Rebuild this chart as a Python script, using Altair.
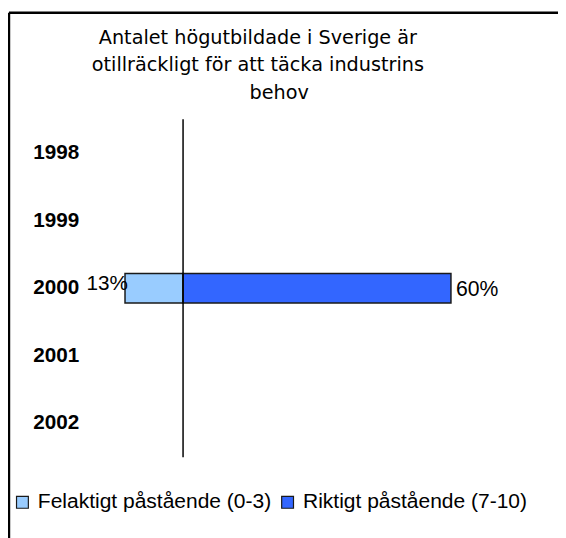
import altair as alt
import pandas as pd

years = ["1998", "1999", "2000", "2001", "2002"]
series_names = ["Felaktigt påstående (0-3)", "Riktigt påstående (7-10)"]
felaktigt = [None, None, 13, None, None]
riktigt = [None, None, 60, None, None]
colors = ["#99CCFF", "#3366FF"]
title_lines = ["Antalet högutbildade i Sverige är",
               "otillräckligt för att täcka industrins",
               "\u200b" + "\u00a0" * 7 + "behov"]

rows = []
for y, f, r in zip(years, felaktigt, riktigt):
    if f is not None:
        rows.append({"year": y, "series": series_names[0], "start": -f, "end": 0,
                     "label": f"{f}%"})
    if r is not None:
        rows.append({"year": y, "series": series_names[1], "start": 0, "end": r,
                     "label": f"{r}%"})
df = pd.DataFrame(rows)

W, H = 453, 343
PL, PT, PR, PB = 87, 109, 18, 78

xscale = alt.Scale(domain=[-20, 80], nice=False, zero=False)
yscale = alt.Scale(domain=years, paddingInner=0, paddingOuter=0)

base = alt.Chart(df)

bars = base.mark_bar(size=30, stroke="#1a1a1a", strokeWidth=1.5).encode(
    x=alt.X("start:Q", scale=xscale, axis=None),
    x2="end:Q",
    y=alt.Y("year:N", scale=yscale, sort=years, title=None,
            axis=alt.Axis(domain=False, ticks=False, labelAlign="left",
                          labelPadding=62, labelFont="Liberation Sans",
                          labelFontWeight="bold", labelFontSize=21,
                          labelColor="black", labelBaseline="middle")),
    color=alt.Color("series:N",
                    scale=alt.Scale(domain=series_names, range=colors),
                    legend=alt.Legend(title=None, orient="none", direction="horizontal",
                                      legendX=-83, legendY=378,
                                      symbolType="square", symbolSize=144,
                                      symbolStrokeColor="#1a1a1a", symbolStrokeWidth=1.2,
                                      labelFont="Liberation Sans", labelFontSize=21.3,
                                      labelColor="black", labelLimit=400,
                                      labelOffset=5, columnPadding=5,
                                      symbolOpacity=1)),
)

left_labels = base.transform_filter(alt.datum.series == series_names[0]).mark_text(
    align="right", baseline="middle", dx=3, dy=-4,
    font="Liberation Sans", fontSize=21, color="black"
).encode(
    x=alt.X("start:Q", scale=xscale),
    y=alt.Y("year:N", scale=yscale, sort=years),
    text="label:N",
)

right_labels = base.transform_filter(alt.datum.series == series_names[1]).mark_text(
    align="left", baseline="middle", dx=5, dy=2,
    font="Liberation Sans", fontSize=21.5, color="black"
).encode(
    x=alt.X("end:Q", scale=xscale),
    y=alt.Y("year:N", scale=yscale, sort=years),
    text="label:N",
)

zero_line = alt.Chart(pd.DataFrame({"z": [0]})).mark_rule(
    color="black", strokeWidth=1.5
).encode(x=alt.X("z:Q", scale=xscale))

frame_top = alt.Chart(pd.DataFrame({"a": [0]})).mark_rule(
    color="black", strokeWidth=2.5, clip=False
).encode(x=alt.value(-PL + 1), x2=alt.value(W + PR + 10), y=alt.value(-PT + 1))

frame_left = alt.Chart(pd.DataFrame({"a": [0]})).mark_rule(
    color="black", strokeWidth=2.5, clip=False
).encode(x=alt.value(-PL + 1), y=alt.value(-PT + 1), y2=alt.value(H + PB + 10))

chart = alt.layer(frame_top, frame_left, bars, zero_line, left_labels, right_labels).properties(
    width=W, height=H,
    padding={"left": PL, "top": PT, "right": PR, "bottom": PB},
    autosize=alt.AutoSizeParams(type="none"),
    background="white",
    title=alt.TitleParams(text=title_lines, anchor="middle", frame="group",
                          dx=-60, dy=113, offset=20, font="DejaVu Sans", fontSize=19.5,
                          fontWeight="normal", color="black", lineHeight=28),
).configure_view(stroke=None)

chart.save("out.html", embed_options={"renderer": "svg", "actions": False})
